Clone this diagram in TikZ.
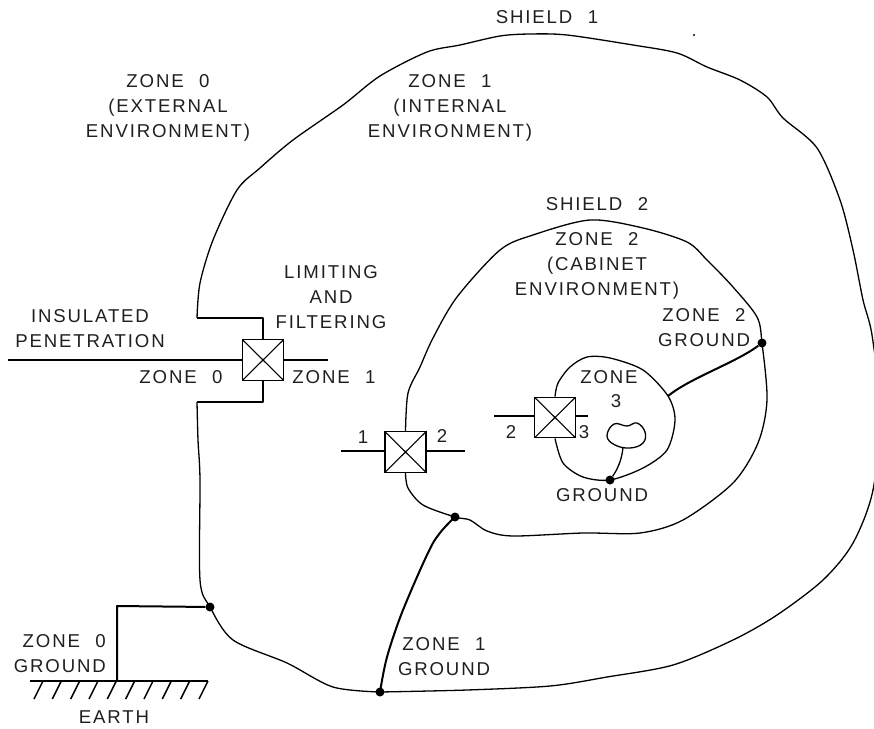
\documentclass[tikz,border=0pt]{standalone}
\usepackage{fontspec}
\setmainfont[LetterSpace=10,WordSpace=2.2]{Liberation Sans}
\begin{document}
\begin{tikzpicture}[x=1pt,y=-1pt,
  lab/.style={font=\fontsize{18.6}{25}\selectfont,align=center,inner sep=0pt,text=black!88},
  xbox/.style={draw,line width=1.4pt,minimum width=41pt,minimum height=40.5pt,inner sep=0pt,
    path picture={\draw[line width=1.1pt] (path picture bounding box.north west)--(path picture bounding box.south east)
      (path picture bounding box.north east)--(path picture bounding box.south west);}},
  dot/.style={circle,fill=black,inner sep=0pt,minimum size=9pt},
  thin curve/.style={line width=1.3pt,line join=round},
  thick wire/.style={line width=2pt,line join=round},
  hatch/.style={line width=1.5pt}]
\useasboundingbox (0,0) rectangle (874,728);
\clip (0,0) rectangle (874,728);
% boxes
\node[xbox] (b1) at (263,360) {};
\node[xbox] (b2) at (405.5,452) {};
\node[xbox] (b3) at (555,417.5) {};
% dots
\node[dot] (d0) at (210,607) {};
\node[dot] (d1) at (380,692) {};
\node[dot] (d2) at (455,517) {};
\node[dot] (d3) at (762,343) {};
\node[dot] (d4) at (610,480) {};
\coordinate (z3e) at (668,396);
\coordinate (p1) at (8,360);
\coordinate (p2) at (328,360);
\coordinate (p3) at (341,451);
\coordinate (p4) at (465,451);
\coordinate (p5) at (494,416);
\coordinate (p6) at (588,416);
\coordinate (g0) at (117,606);
\coordinate (g1) at (117,681);
\coordinate (e1) at (30,681);
\coordinate (e2) at (208,681);
\coordinate (c1) at (197,318);
\coordinate (c2) at (197,402);
% outer shield
\draw[thin curve] (b1.north) |- (c1);
\draw[thin curve] plot[smooth,tension=.5] coordinates {(c1) (200,283) (213,240) (237,190) (260,168) (293,140) (343,105) (380,76) (427,52) (460,45) (500,36) (530,34) (567,35) (633,45) (677,53) (707,67) (740,80) (767,97) (783,118) (817,148) (840,200) (853,250) (863,300) (872,335) (880,410) (873,490) (853,543) (823,580) (777,615) (733,640) (673,665) (607,677) (550,686) (467,690) (d1)};
\draw[thin curve] plot[smooth,tension=.5] coordinates {(d1) (333,687) (287,663) (233,640) (d0) (200,580) (200,480) (198,440) (c2)};
\draw[thin curve] (c2) -| (b1.south);
% shield 2
\draw[thin curve] plot[smooth,tension=.5] coordinates {(b2.north) (408,393) (420,367) (433,338) (457,297) (500,250) (533,235) (590,220) (643,228) (687,242) (707,260) (733,287) (757,317) (d3) (767,400) (758,443) (733,483) (683,520) (640,533) (583,533) (513,536) (487,531) (470,520) (d2) (423,505) (408,488) (b2.south)};
% zone 3
\draw[thin curve] plot[smooth,tension=.5] coordinates {(b3.north) (558,383) (570,367) (587,357) (610,358) (643,370) (z3e) (675,420) (667,450) (643,468) (d4) (583,477) (563,463) (b3.south)};
% blob
\draw[thin curve] plot[smooth cycle,tension=.7] coordinates {(627,426) (637,423) (645,432) (643,443) (630,448) (615,445) (607,436) (614,424)};
\draw[thin curve] (623,447) .. controls (622,460) and (617,470) .. (d4);
% wires
\draw[thick wire] (p1) -- (b1.west |- p1);
\draw[thick wire] (b1.east |- p2) -- (p2);
\draw[thick wire] (p3) -- (b2.west |- p3);
\draw[thick wire] (b2.east |- p4) -- (p4);
\draw[thick wire] (p5) -- (b3.west |- p5);
\draw[thick wire] (b3.east |- p6) -- (p6);
\draw[thick wire] (z3e) .. controls (690,378) and (735,363) .. (d3);
\draw[thick wire] plot[smooth,tension=.5] coordinates {(d1) (387,657) (403,610) (433,543) (d2)};
\draw[thick wire] (d0) -- (g0) -- (g1);
\draw[thick wire] (e1) -- (e2);
% hatching
\foreach \x in {43,61.3,79.7,98,116.3,134.7,153,171.3,189.7,208}
  \draw[hatch] (\x,681) -- (\x-9,699);
\fill (694,35) circle (1.1pt);
% text
\node[lab] at (547,17) {SHIELD 1};
\node[lab] at (168,108) {ZONE 0\\(EXTERNAL\\ENVIRONMENT)};
\node[lab] at (450,108) {ZONE 1\\(INTERNAL\\ENVIRONMENT)};
\node[lab] at (597,204) {SHIELD 2};
\node[lab] at (597,266) {ZONE 2\\(CABINET\\ENVIRONMENT)};
\node[lab] at (331,297) {LIMITING\\AND\\FILTERING};
\node[lab] at (90,329) {INSULATED\\PENETRATION};
\node[lab] at (181,377) {ZONE 0};
\node[lab] at (334,377) {ZONE 1};
\node[lab] at (704,328) {ZONE 2\\GROUND};
\node[lab] at (363,437) {1};
\node[lab] at (442,436) {2};
\node[lab] at (511,432) {2};
\node[lab] at (584,432) {3};
\node[lab] at (609,377) {ZONE};
\node[lab] at (616,401) {3};
\node[lab] at (602,495) {GROUND};
\node[lab,align=right,anchor=east] at (106,654) {ZONE 0\\GROUND};
\node[lab] at (444,657) {ZONE 1\\GROUND};
\node[lab] at (114,717) {EARTH};
\end{tikzpicture}
\end{document}
